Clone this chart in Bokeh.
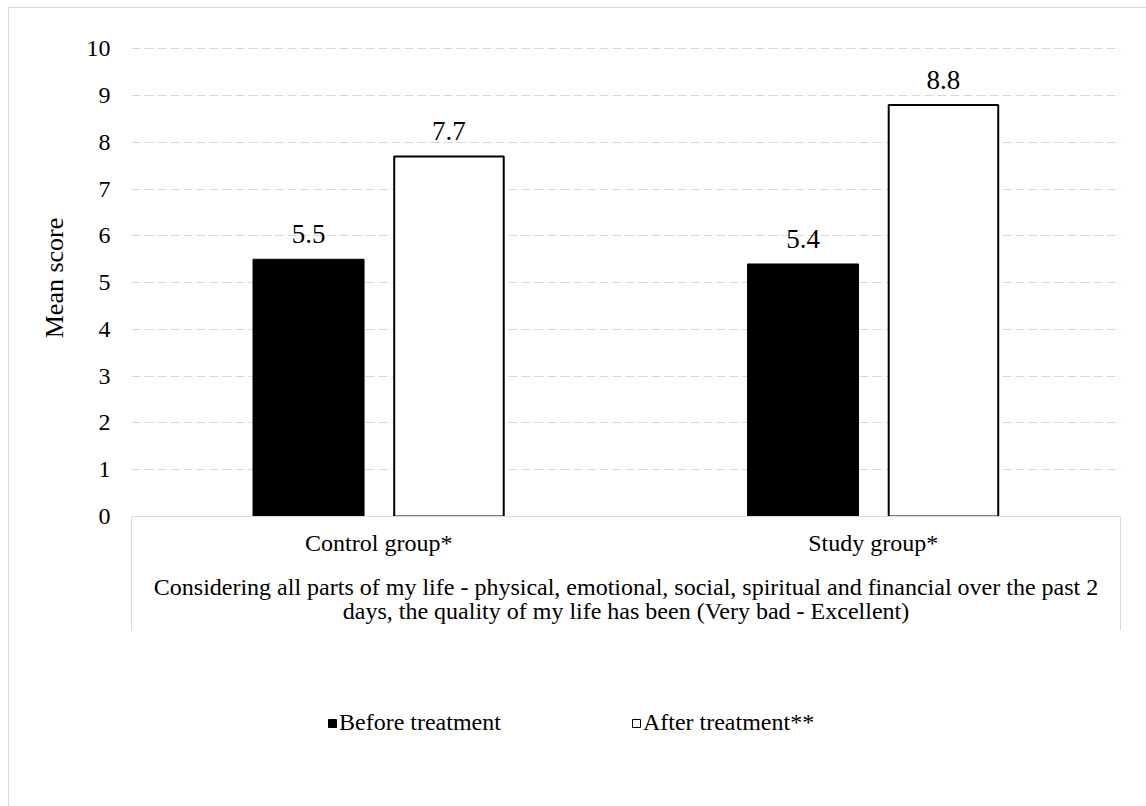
from bokeh.plotting import figure
from bokeh.layouts import column
from bokeh.models import (Range1d, ColumnDataSource, Legend, LegendItem, FixedTicker)
from bokeh.core.properties import value
from bokeh.embed import file_html
from bokeh.resources import INLINE

# --- data -------------------------------------------------------------
groups = ["Control group*", "Study group*"]
before = [5.5, 5.4]
after = [7.7, 8.8]
series_names = ["Before treatment", "After treatment**"]
question_lines = [
    "Considering all parts of my life - physical, emotional, social, spiritual and financial over the past 2",
    "days, the quality of my life has been (Very bad - Excellent)",
]
y_ticks = [0, 1, 2, 3, 4, 5, 6, 7, 8, 9, 10]

# --- layout -----------------------------------------------------------
W = 1137
H_CHART, H_LEGEND = 652, 146
LEFT, RIGHT, TOP, BOTTOM = 122, 26, 31, 144
FONT = "Liberation Serif"
GRID = "#d9d9d9"
BOX_DEPTH = 114

centers = [i + 0.5 for i in range(len(groups))]
OFFSET = 0.142
BAR_W = 0.2245

p = figure(width=W, height=H_CHART,
           x_range=Range1d(0, len(groups)),
           y_range=Range1d(0, 10.2),
           output_backend="svg", toolbar_location=None,
           min_border_left=LEFT, min_border_right=RIGHT,
           min_border_top=TOP, min_border_bottom=BOTTOM)
p.outline_line_color = None
p.background_fill_color = "white"
p.border_fill_color = "white"

# y axis
p.yaxis.ticker = FixedTicker(ticks=y_ticks)
p.yaxis.axis_line_color = None
p.yaxis.major_tick_line_color = None
p.yaxis.minor_tick_line_color = None
p.yaxis.major_label_standoff = 15
p.yaxis.major_label_text_font = FONT
p.yaxis.major_label_text_font_size = "24px"
p.yaxis.major_label_text_color = "black"
p.yaxis.axis_label = "Mean score"
p.yaxis.axis_label_text_font = FONT
p.yaxis.axis_label_text_font_size = "26px"
p.yaxis.axis_label_text_font_style = "normal"
p.yaxis.axis_label_text_color = "black"
p.yaxis.axis_label_standoff = 15

# x axis: group names at the centres, box edges drawn as long minor ticks
p.xaxis.ticker = FixedTicker(ticks=centers, minor_ticks=[0, len(groups)])
p.xaxis.major_label_overrides = {c: g for c, g in zip(centers, groups)}
p.xaxis.axis_line_color = GRID
p.xaxis.axis_line_width = 1
p.xaxis.major_tick_line_color = None
p.xaxis.minor_tick_line_color = GRID
p.xaxis.minor_tick_line_width = 1
p.xaxis.minor_tick_in = 0
p.xaxis.minor_tick_out = BOX_DEPTH
p.xaxis.major_label_standoff = 13 - BOX_DEPTH
p.xaxis.major_label_text_font = FONT
p.xaxis.major_label_text_font_size = "24px"
p.xaxis.major_label_text_color = "black"
p.xaxis.axis_label = "\n".join(question_lines)
p.xaxis.axis_label_text_font = FONT
p.xaxis.axis_label_text_font_size = "24px"
p.xaxis.axis_label_text_font_style = "normal"
p.xaxis.axis_label_text_color = "black"
p.xaxis.axis_label_text_line_height = 0.95
p.xaxis.axis_label_standoff = 15

# grid
p.xgrid.visible = False
p.ygrid.ticker = FixedTicker(ticks=y_ticks[1:])
p.ygrid.grid_line_color = GRID
p.ygrid.grid_line_dash = "9 4"
p.ygrid.grid_line_width = 1.2

# --- bars -------------------------------------------------------------
src = ColumnDataSource(dict(
    x_before=[c - OFFSET for c in centers],
    x_after=[c + OFFSET for c in centers],
    before=before,
    after=after,
    before_lbl=[f"{v:.1f}" for v in before],
    after_lbl=[f"{v:.1f}" for v in after],
))

BEFORE_STYLE = dict(fill_color="black", line_color="black", line_width=1)
AFTER_STYLE = dict(fill_color="white", line_color="black", line_width=2)

p.vbar(x="x_before", top="before", width=BAR_W, source=src, **BEFORE_STYLE)
p.vbar(x="x_after", top="after", width=BAR_W - 0.003, source=src, **AFTER_STYLE)

for xcol, col, lbl in (("x_before", "before", "before_lbl"), ("x_after", "after", "after_lbl")):
    p.text(x=xcol, y=col, text=lbl, source=src,
           text_align="center", text_baseline="alphabetic", y_offset=-25,
           text_font=value(FONT), text_font_size="27px", text_color="black")

# --- legend strip under the chart ------------------------------------
# hidden copies of the two series give the legend its swatches
q = figure(width=W, height=H_LEGEND, x_range=Range1d(0, len(groups)), y_range=Range1d(-2, -1),
           output_backend="svg", toolbar_location=None,
           x_axis_location=None, y_axis_location=None, min_border=0)
q.grid.visible = False
q.outline_line_color = None
q.background_fill_color = "white"
q.border_fill_color = "white"

lg_before = q.vbar(x="x_before", top="before", width=BAR_W, source=src, visible=False,
                   **BEFORE_STYLE)
lg_after = q.vbar(x="x_after", top="after", width=BAR_W, source=src, visible=False,
                  fill_color="white", line_color="black", line_width=1)

legend = Legend(items=[LegendItem(label=series_names[0], renderers=[lg_before]),
                       LegendItem(label=series_names[1], renderers=[lg_after])],
                orientation="horizontal", location=(196, 70),
                glyph_width=10, glyph_height=10, label_standoff=2, spacing=130,
                padding=0, margin=0, border_line_color=None, background_fill_alpha=0,
                inactive_fill_alpha=0,
                label_text_font=FONT, label_text_font_size="24px", label_text_color="black")
q.add_layout(legend)

layout = column(p, q, spacing=0, margin=(7, 0, 0, 8),
                styles={"border-top": f"1px solid {GRID}", "border-left": f"1px solid {GRID}"})

open("out.html", "w").write(file_html(layout, INLINE))
